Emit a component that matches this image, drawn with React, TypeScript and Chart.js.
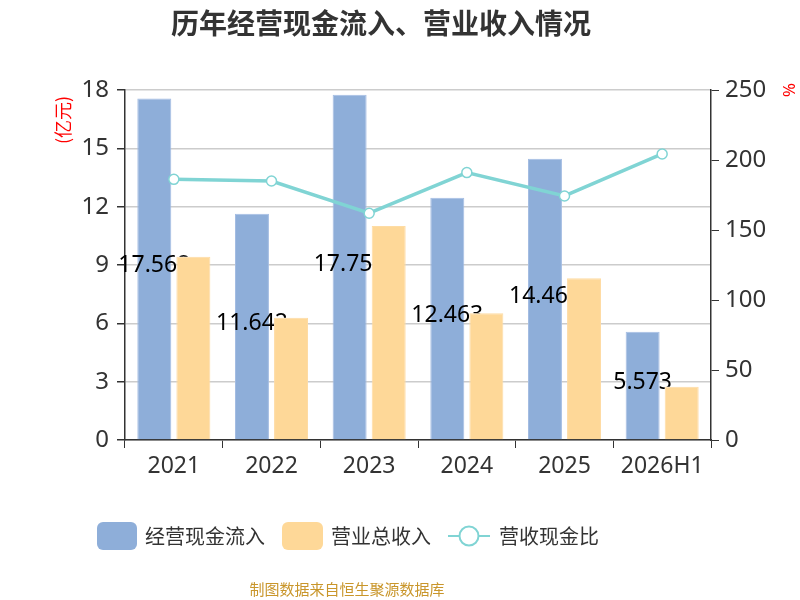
import { useEffect, useRef } from "react"
import { Chart, registerables } from "chart.js"
import type { Plugin } from "chart.js"

Chart.register(...registerables)

const categories = ["2021", "2022", "2023", "2024", "2025", "2026H1"]
const cashInflow = [17.568, 11.642, 17.756, 12.463, 14.464, 5.573]
const revenue = [9.43, 6.29, 11.0, 6.52, 8.32, 2.74]
const cashRatio = [186.2, 185.0, 162.0, 191.0, 174.3, 204.3]
const leftTicks = [0, 3, 6, 9, 12, 15, 18]
const rightTicks = [0, 50, 100, 150, 200, 250]

const BLUE = "#8eaed9"
const ORANGE = "#fed898"
const TEAL = "#80d4d4"
const FONT = '"Noto Sans", "Noto Sans CJK SC", sans-serif'
const CJK = '"Noto Sans CJK SC", sans-serif'

function roundRect(ctx: CanvasRenderingContext2D, x: number, y: number, w: number, h: number, r: number) {
  ctx.beginPath()
  ctx.moveTo(x + r, y)
  ctx.arcTo(x + w, y, x + w, y + h, r)
  ctx.arcTo(x + w, y + h, x, y + h, r)
  ctx.arcTo(x, y + h, x, y, r)
  ctx.arcTo(x, y, x + w, y, r)
  ctx.closePath()
}

// 蓝色柱子中间的数值, 被橙色柱子遮住的部分不画
const barLabels: Plugin<"bar"> = {
  id: "barLabels",
  afterDatasetDraw(chart, args) {
    if (args.index !== 0) return
    const ctx = chart.ctx
    const bars = chart.getDatasetMeta(0).data as any[]
    const covers = chart.getDatasetMeta(1).data as any[]
    ctx.save()
    ctx.beginPath()
    ctx.rect(0, 0, chart.width, chart.height)
    covers.forEach((b) => {
      ctx.rect(b.x - b.width / 2, b.y, b.width, b.base - b.y)
    })
    ctx.clip("evenodd")
    ctx.font = `23px ${FONT}`
    ctx.fillStyle = "#000"
    ctx.textAlign = "center"
    ctx.textBaseline = "middle"
    bars.forEach((b, i) => {
      ctx.fillText(String(cashInflow[i]), b.x, (b.y + b.base) / 2 - 3)
    })
    ctx.restore()
  },
}

const decorations: Plugin<"bar"> = {
  id: "decorations",
  afterDraw(chart) {
    const ctx = chart.ctx
    ctx.save()
    ctx.textBaseline = "middle"

    ctx.fillStyle = "#333"
    ctx.font = `bold 28px ${CJK}`
    ctx.textAlign = "center"
    ctx.fillText("历年经营现金流入、营业收入情况", 381, 23)

    // 坐标轴单位
    ctx.fillStyle = "#f00"
    ctx.font = `18px ${CJK}`
    ctx.save()
    ctx.translate(63, 120)
    ctx.rotate(-Math.PI / 2)
    ctx.fillText("(亿元)", 0, 0)
    ctx.restore()
    ctx.save()
    ctx.translate(788, 90)
    ctx.rotate(Math.PI / 2)
    ctx.font = `17px ${FONT}`
    ctx.fillText("%", 0, 0)
    ctx.restore()

    // 图例
    const ds = chart.data.datasets
    const ly = 536
    ctx.textAlign = "left"
    ctx.font = `20px ${CJK}`
    ctx.fillStyle = BLUE
    roundRect(ctx, 97, 522, 40, 28, 6)
    ctx.fill()
    ctx.fillStyle = "#333"
    ctx.fillText(String(ds[0].label), 145, ly)
    ctx.fillStyle = ORANGE
    roundRect(ctx, 282, 522, 41, 28, 6)
    ctx.fill()
    ctx.fillStyle = "#333"
    ctx.fillText(String(ds[1].label), 331, ly)
    ctx.strokeStyle = TEAL
    ctx.lineWidth = 2
    ctx.beginPath()
    ctx.moveTo(448, ly)
    ctx.lineTo(490, ly)
    ctx.stroke()
    ctx.beginPath()
    ctx.arc(469, ly, 9.5, 0, Math.PI * 2)
    ctx.fillStyle = "#fff"
    ctx.fill()
    ctx.stroke()
    ctx.fillStyle = "#333"
    ctx.fillText(String(ds[2].label), 499, ly)

    ctx.fillStyle = "#c9962b"
    ctx.font = `15px ${CJK}`
    ctx.textAlign = "center"
    ctx.fillText("制图数据来自恒生聚源数据库", 347, 589)
    ctx.restore()
  },
}

export default function App() {
  const chartRef = useRef<HTMLCanvasElement>(null)
  const chartInstance = useRef<Chart | null>(null)

  useEffect(() => {
    if (!chartRef.current) return
    if (chartInstance.current) chartInstance.current.destroy()

    chartInstance.current = new Chart(chartRef.current, {
      type: "bar",
      data: {
        labels: categories,
        datasets: [
          {
            label: "经营现金流入",
            data: cashInflow,
            backgroundColor: BLUE,
            borderColor: "#a4bde3",
            borderWidth: 1,
            yAxisID: "y",
            order: 1,
          },
          {
            label: "营业总收入",
            data: revenue,
            backgroundColor: ORANGE,
            borderColor: "#fedca4",
            borderWidth: 1,
            yAxisID: "y",
            order: 2,
          },
          {
            type: "line",
            label: "营收现金比",
            data: cashRatio,
            borderColor: TEAL,
            borderWidth: 3.5,
            pointRadius: 5,
            pointBorderWidth: 1.5,
            pointBackgroundColor: "#fff",
            pointBorderColor: TEAL,
            yAxisID: "y1",
            order: 0,
          } as any,
        ],
      },
      options: {
        responsive: false,
        animation: false,
        categoryPercentage: 0.8,
        barPercentage: 0.87,
        layout: { padding: { top: 90, left: 0, right: 0, bottom: 0 } },
        scales: {
          x: {
            afterFit: (scale) => {
              scale.height = 160
            },
            grid: { drawOnChartArea: false, tickLength: 8, tickColor: "#333", offset: true },
            border: { color: "#333", width: 1.5 },
            ticks: { color: "#333", font: { size: 23, family: FONT }, padding: 5 },
          },
          y: {
            position: "left",
            min: 0,
            max: 18,
            afterFit: (scale) => {
              scale.width = 125
            },
            afterBuildTicks: (scale) => {
              scale.ticks = leftTicks.map((v) => ({ value: v }))
            },
            grid: { color: "#ccc", lineWidth: 1.5, tickLength: 8, tickColor: "#333" },
            border: { color: "#333", width: 1.5 },
            ticks: { color: "#333", font: { size: 24, family: FONT }, padding: 8 },
          },
          y1: {
            position: "right",
            min: 0,
            max: 250,
            afterFit: (scale) => {
              scale.width = 89
            },
            afterBuildTicks: (scale) => {
              scale.ticks = rightTicks.map((v) => ({ value: v }))
            },
            grid: { drawOnChartArea: false, tickLength: 8, tickColor: "#333" },
            border: { color: "#333", width: 1.5 },
            ticks: { color: "#333", font: { size: 24, family: FONT }, padding: 6 },
          },
        },
        plugins: {
          legend: { display: false },
          title: { display: false },
          tooltip: { enabled: false },
        },
      },
      plugins: [barLabels, decorations],
    })

    return () => {
      if (chartInstance.current) {
        chartInstance.current.destroy()
        chartInstance.current = null
      }
    }
  }, [])

  return (
    <div style={{ position: "absolute", left: 0, top: 0, width: 800, height: 600, background: "#fff" }}>
      <canvas ref={chartRef} width={800} height={600} />
    </div>
  )
}
